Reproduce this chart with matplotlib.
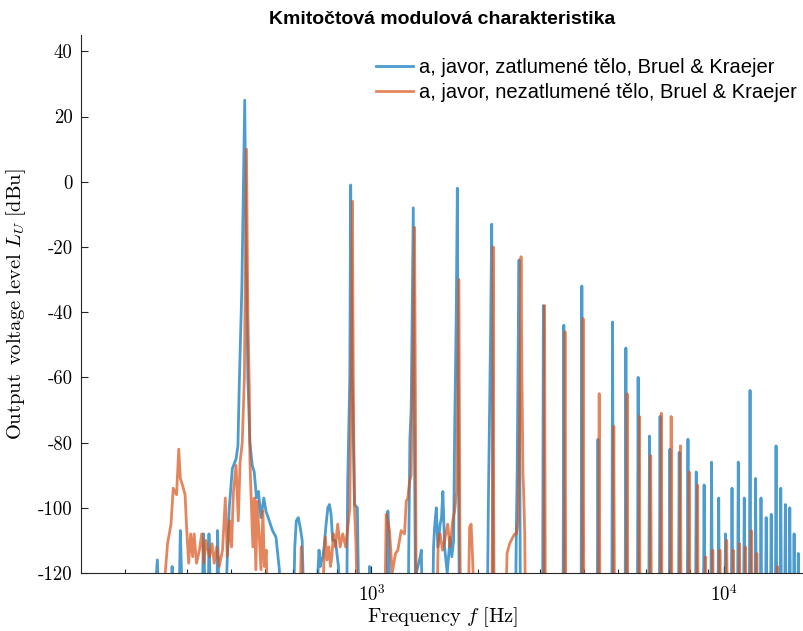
import numpy as np
import matplotlib
matplotlib.use("Agg")
import matplotlib.pyplot as plt
from matplotlib.ticker import LogLocator, NullFormatter, FixedLocator

plt.rcParams['mathtext.fontset'] = 'cm'

# --- data ------------------------------------------------------------------
# low-frequency part (fundamental .. 6th harmonic), blue = damped body
blue_low_f = [240, 247, 250, 270, 272, 274, 284, 287, 290, 330, 334, 337,
              344, 346, 349, 364, 366, 369, 385, 390, 395, 403, 413, 418,
              422, 429, 437, 441, 446, 452, 459, 465, 472, 478, 486, 495,
              502, 513, 524, 536, 548, 551,
              600, 606, 612, 620, 628, 636, 645,
              700, 706, 710, 716, 722, 728, 734, 742, 752, 760, 768, 776,
              790, 806, 812,
              850, 856, 868, 873, 882, 895, 912, 922,
              982, 987, 992, 1105, 1113, 1120, 1128,
              1270, 1285, 1296, 1314, 1322, 1332, 1340, 1375, 1385, 1395,
              1490, 1500, 1510, 1527, 1543, 1566, 1580, 1594, 1605, 1612,
              1640, 1660, 1672, 1690, 1710, 1721, 1740, 1752, 1762, 1770,
              1778,
              2130, 2145, 2152, 2175, 2193, 2205, 2215,
              2560, 2577, 2590, 2605, 2622, 2635, 2645]
blue_low_db = [-135, -116, -135, -135, -118, -135, -135, -107, -125, -135,
               -108, -125, -135, -108, -125, -135, -107, -125, -135, -115,
               -100, -88, -85, -81, -61, -32, 25, -20, -60, -80, -87, -89,
               -97, -95, -103, -97, -101, -104, -107, -109, -119, -135,
               -135, -112, -104, -103, -106, -110, -135,
               -135, -118, -113, -118, -116, -115, -112, -106, -100, -99,
               -102, -110, -110, -118, -135,
               -135, -93, -60, -1, -60, -99, -100, -135,
               -135, -118, -135, -135, -101, -110, -135,
               -135, -79, -70, -8, -70, -120, -120, -115, -113, -135,
               -135, -112, -106, -100, -112, -105, -103, -95, -105, -112,
               -120, -113, -109, -115, -110, -78, -40, -2, -60, -110,
               -135,
               -135, -100, -88, -50, -13, -70, -135,
               -135, -105, -89, -55, -24, -90, -135]

# orange = undamped body
orange_low_f = [255, 260, 264, 270, 274, 280, 284, 287, 291, 296, 299, 303,
                307, 311, 314, 319, 325, 330, 335, 339, 347, 353, 358, 364,
                370, 378, 385, 390, 396, 401, 406, 413, 419, 424, 430, 436,
                442, 446, 450, 452, 456, 461, 465, 470, 474, 480, 486, 492,
                497, 503, 508,
                625, 632, 640,
                725, 732, 740, 748, 757, 765, 772, 780, 790, 802, 815, 829,
                845, 857, 868, 876, 883, 888, 895, 903, 914,
                1090, 1101, 1112, 1125, 1145, 1170, 1188, 1214, 1241, 1255,
                1268, 1282, 1296, 1310, 1325, 1333, 1340,
                1530, 1545, 1553, 1566, 1590, 1612, 1645, 1670, 1700, 1721,
                1745, 1770, 1780, 1790,
                1880, 1898, 1917, 1935, 1961,
                2195, 2205, 2214, 2222, 2230,
                2400, 2424, 2466, 2518, 2548, 2577, 2610, 2640, 2656, 2672,
                2690, 2700, 2721, 2735]
orange_low_db = [-135, -120, -111, -105, -94, -96, -82, -91, -93, -96, -106,
                 -117, -108, -115, -108, -117, -113, -108, -117, -110, -115,
                 -111, -117, -112, -118, -113, -97, -115, -104, -112, -95,
                 -87, -104, -86, -80, -60, 10, -40, -62, -85, -98, -112, -97,
                 -119, -98, -108, -119, -101, -118, -113, -135,
                 -135, -112, -135,
                 -135, -118, -109, -116, -112, -118, -115, -108, -112, -105,
                 -112, -108, -112, -106, -100, -60, -6, -60, -100, -110, -135,
                 -135, -102, -104, -107, -120, -114, -113, -107, -108, -98,
                 -97, -92, -90, -60, -14, -70, -135,
                 -135, -112, -108, -108, -113, -110, -105, -112, -104, -101,
                 -95, -30, -100, -135,
                 -135, -106, -105, -115, -135,
                 -135, -95, -20, -100, -135,
                 -135, -114, -111, -109, -108, -108, -104, -60, -23, -60,
                 -90, -94, -108, -135]

# higher harmonics (7th and up): peak frequency [Hz] and level [dBu]
blue_harm_f = [3073, 3512, 3951, 4390, 4829, 5268, 5707, 6146, 6585, 7024,
               7463, 7902, 8341, 8780, 9219, 9658, 10097, 10536, 10975,
               11414, 11853, 12292, 12731, 13170, 13609, 14048, 14487,
               14926, 15365, 15804, 16243]
blue_harm_db = [-38, -44, -32, -79, -43, -51, -60, -78, -72, -82, -83, -79,
                -89, -93, -86, -97, -108, -94, -86, -97, -64, -91, -97, -103,
                -102, -81, -94, -99, -100, -108, -114]

orange_harm_f = [3098, 3540, 3983, 4425, 4868, 5310, 5753, 6195, 6638, 7080,
                 7523, 7965, 8408, 8850, 9293, 9735, 10178, 10620, 11063,
                 11505, 11948, 12390, 14160]
orange_harm_db = [-38, -46, -42, -65, -75, -65, -72, -84, -71, -72, -81, -89,
                  -93, -115, -113, -113, -110, -113, -111, -112, -107, -114,
                  -118]

legend_labels = ['a, javor, zatlumené tělo, Bruel & Kraejer',
                 'a, javor, nezatlumené tělo, Bruel & Kraejer']
yticks = [-120, -100, -80, -60, -40, -20, 0, 20, 40]


def build(low_f, low_db, hf, hdb):
    f = list(low_f)
    d = list(low_db)
    for pf, pd in zip(hf, hdb):
        f += [pf * 0.995, pf, pf * 1.005]
        d += [-135, pd, -135]
    return f, d


bf, bd = build(blue_low_f, blue_low_db, blue_harm_f, blue_harm_db)
of, od = build(orange_low_f, orange_low_db, orange_harm_f, orange_harm_db)

fig = plt.figure(figsize=(8.04, 6.31), dpi=100)
ax = fig.add_axes([81 / 804, 1 - 573 / 631, 722 / 804, (573 - 35) / 631])

ax.plot(bf, bd, color=(0, 0.447, 0.741), alpha=0.7, lw=2.0,
        label=legend_labels[0])
ax.plot(of, od, color=(0.85, 0.325, 0.098), alpha=0.7, lw=2.0,
        label=legend_labels[1])

ax.set_xscale('log')
ax.set_xlim(150, 16750)
ax.set_ylim(-120, 45)

for s in ['top', 'right']:
    ax.spines[s].set_visible(False)
for s in ['left', 'bottom']:
    ax.spines[s].set_color('#262626')
    ax.spines[s].set_linewidth(0.8)

ax.xaxis.set_major_locator(FixedLocator([1e3, 1e4]))
ax.set_xticklabels([r'$10^3$', r'$10^4$'], fontsize=13.5)
ax.xaxis.set_minor_locator(LogLocator(base=10, subs=np.arange(2, 10)))
ax.xaxis.set_minor_formatter(NullFormatter())
ax.set_yticks(yticks)
ax.set_yticklabels([str(v) for v in yticks], fontfamily='cmr10', fontsize=13.5)
ax.tick_params(which='both', direction='in', color='#262626')
ax.tick_params(which='major', length=5, width=0.8)
ax.tick_params(which='minor', length=3, width=0.8)
ax.tick_params(axis='y', pad=6)
ax.tick_params(axis='x', pad=8)

ax.set_xlabel(r'$\mathrm{Frequency}\ f\ \mathrm{[Hz]}$', fontsize=14.8, labelpad=0)
ax.set_ylabel(r'$\mathrm{Output\ \,voltage\ level}\ L_U\ \mathrm{[dBu]}$',
              fontsize=14.8, labelpad=7)
fig.text(442 / 804, 1 - 20 / 631, 'Kmitočtová modulová charakteristika',
         ha='center', va='center', fontsize=14, fontweight='bold',
         family='Liberation Sans')

ax.legend(loc='upper left', bbox_to_anchor=(376 / 804, 1 - 58 / 631),
          bbox_transform=fig.transFigure, frameon=False, borderpad=0,
          borderaxespad=0, handlelength=1.85, handletextpad=0.3,
          labelspacing=0.28, prop={'family': 'Liberation Sans', 'size': 14.5})

fig.savefig('out.png', dpi=100)
